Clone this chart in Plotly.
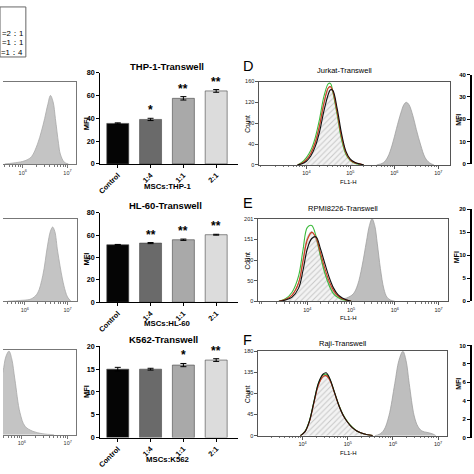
import math
import plotly.graph_objects as go

W = H = 474

# ---------------- data ----------------
bar_categories = ["Control", "1:4", "1:1", "2:1"]
bar_colors = ["#050505", "#6a6a6a", "#a9a9a9", "#dcdcdc"]

thp1_mfi = [35.5, 39.0, 57.5, 64.0]
thp1_err = [0.5, 1.0, 1.5, 1.2]
thp1_sig = ["", "*", "**", "**"]

hl60_mfi = [51.5, 53.0, 56.0, 60.5]
hl60_err = [0.3, 0.5, 0.6, 0.4]
hl60_sig = ["", "**", "**", "**"]

k562_mfi = [15.0, 15.0, 15.9, 17.0]
k562_err = [0.4, 0.2, 0.35, 0.3]
k562_sig = ["", "", "*", "**"]

legend_labels = ["=2：1", "=1：1", "=1：4"]

# left column (cropped) histograms, x in log10(FL1-H)
tl_x = [5.6, 5.78, 6.0, 6.1, 6.2, 6.33, 6.42, 6.49, 6.56, 6.62, 6.68, 6.73, 6.8, 6.84, 6.93, 7.02]
tl_y = [0, 1, 3, 5, 9, 24, 40, 55, 72, 83, 75, 55, 25, 12, 2, 0]
ml_x = [5.6, 5.9, 6.1, 6.19, 6.3, 6.42, 6.53, 6.6, 6.65, 6.7, 6.77, 6.88, 6.95, 7.0, 7.08]
ml_y = [0, 1, 2, 4, 10, 31, 67, 85, 90, 85, 60, 27, 12, 5, 0]
bl_x = [5.4, 5.5, 5.59, 5.65, 5.72, 5.78, 5.85, 5.96, 6.07, 6.24, 6.46, 6.7]
bl_y = [40, 58, 75, 92, 99, 90, 65, 26, 10, 4, 1, 0]

# D: Jurkat
d_pos_x = [5.6, 5.75, 5.85, 5.95, 6.05, 6.15, 6.22, 6.27, 6.33, 6.42, 6.5, 6.6, 6.7, 6.8, 6.9]
d_pos_y = [0, 4, 15, 38, 70, 100, 116, 120, 116, 95, 68, 38, 14, 4, 0]
d_x = [3.8, 3.9, 4.0, 4.1, 4.2, 4.3, 4.4, 4.5, 4.55, 4.6, 4.7, 4.8, 4.9, 5.0, 5.1, 5.2, 5.3]
d_ctrl = [0, 3, 10, 22, 42, 75, 118, 148, 150, 142, 100, 52, 22, 9, 4, 2, 0]
d_green = [0, 5, 14, 28, 52, 88, 132, 156, 156, 140, 96, 48, 20, 8, 3, 1, 0]
d_red = [0, 3, 10, 22, 43, 76, 119, 148, 150, 142, 101, 54, 23, 9, 4, 2, 0]
d_black = [0, 2, 7, 17, 35, 64, 104, 136, 144, 143, 108, 60, 26, 11, 5, 2, 0]

# E: RPMI8226
e_pos_x = [4.5, 4.7, 4.9, 5.05, 5.15, 5.25, 5.35, 5.42, 5.48, 5.54, 5.6, 5.67, 5.75, 5.82, 5.9, 6.0]
e_pos_y = [0, 3, 8, 18, 40, 85, 145, 185, 201, 185, 140, 80, 30, 10, 3, 0]
e_x = [3.35, 3.5, 3.65, 3.8, 3.9, 4.0, 4.1, 4.2, 4.3, 4.4, 4.5, 4.6, 4.7, 4.8, 4.9, 5.0]
e_ctrl = [0, 4, 15, 45, 100, 155, 170, 150, 110, 72, 42, 22, 12, 6, 3, 0]
e_green = [0, 6, 22, 62, 125, 180, 185, 158, 110, 68, 38, 18, 9, 4, 2, 0]
e_red = [0, 4, 15, 45, 98, 150, 168, 155, 118, 80, 48, 26, 13, 6, 3, 0]
e_black = [0, 3, 10, 32, 75, 128, 153, 157, 128, 92, 58, 32, 16, 8, 3, 0]

# F: Raji
f_pos_x = [5.6, 5.7, 5.8, 5.91, 6.04, 6.13, 6.22, 6.29, 6.36, 6.47, 6.55, 6.64, 6.75, 6.87, 6.95]
f_pos_y = [0, 3, 12, 42, 111, 160, 180, 160, 111, 42, 20, 10, 7, 4, 0]
f_x = [3.95, 4.05, 4.15, 4.25, 4.35, 4.45, 4.52, 4.6, 4.7, 4.8, 4.9, 5.0, 5.1, 5.2, 5.35, 5.55]
f_ctrl = [0, 8, 30, 70, 108, 125, 127, 118, 92, 64, 42, 28, 17, 10, 4, 0]
f_green = [0, 9, 32, 73, 112, 129, 131, 121, 94, 66, 44, 29, 18, 10, 4, 0]
f_red = [0, 8, 30, 70, 108, 126, 128, 119, 93, 65, 43, 28, 17, 10, 4, 0]
f_black = [0, 8, 31, 72, 112, 131, 134, 122, 94, 65, 43, 28, 17, 10, 4, 0]

# ---------------- helpers ----------------
FONT = "Liberation Sans, Arial, sans-serif"


def xd(a, b):
    return [max(0.0, a / W), min(1.0, b / W)]


def yd(top, bottom):
    return [1 - bottom / H, 1 - top / H]


def px(v):
    return v / W


def py(v):
    return 1 - v / H


minor_vals = [n + math.log10(k) for n in range(2, 8) for k in range(2, 10)]


def decade_ticks(lo, hi):
    vals = list(range(lo, hi + 1))
    return vals, ["10<sup>%d</sup>" % v for v in vals]


fig = go.Figure()
layout = dict(
    width=W, height=H, margin=dict(l=0, r=0, t=0, b=0),
    paper_bgcolor="white", plot_bgcolor="white", showlegend=False,
    font=dict(family=FONT, color="black"),
)
annotations = []
shapes = []


def ann(text, x, y, size, bold=False, angle=0, xanchor="center", yanchor="middle", color="black"):
    annotations.append(dict(
        text=("<b>%s</b>" % text) if bold else text, x=px(x), y=py(y), xref="paper", yref="paper",
        showarrow=False, textangle=angle, xanchor=xanchor, yanchor=yanchor,
        font=dict(size=size, family=FONT, color=color)))


# ---------------- left cropped histograms ----------------
left_specs = [
    (1, tl_x, tl_y, (0, 73), (79, 163), [5.56, 7.18]),
    (2, ml_x, ml_y, (0, 74), (219, 303), [5.49, 7.21]),
    (3, bl_x, bl_y, (0, 73), (353, 439), [5.59, 7.17]),
]
for i, hx, hy, xdom, ydom, xr in left_specs:
    xa = "x" if i == 1 else "x%d" % i
    ya = "y" if i == 1 else "y%d" % i
    fig.add_trace(go.Scatter(x=hx, y=hy, mode="lines", xaxis=xa, yaxis=ya,
                             line=dict(color="#a8a8a8", width=0.8, shape="spline"),
                             fill="tozeroy", fillcolor="#c4c4c4", hoverinfo="skip"))
    tv, tt = decade_ticks(6, 7)
    layout["xaxis" if i == 1 else "xaxis%d" % i] = dict(
        domain=xd(*xdom), range=xr, anchor=ya, showline=True, mirror=True, linecolor="#777",
        linewidth=1, ticks="outside", ticklen=3, tickcolor="#777", tickvals=tv, ticktext=tt,
        tickfont=dict(size=5.5, color="#333"), showgrid=False, zeroline=False,
        minor=dict(tickvals=minor_vals, ticks="outside", ticklen=2, tickcolor="#777"))
    layout["yaxis" if i == 1 else "yaxis%d" % i] = dict(
        domain=yd(*ydom), range=[0, 100], anchor=xa, side="right", showline=True,
        linecolor="#777", linewidth=1, ticks="", showticklabels=False, showgrid=False,
        zeroline=False)

# legend box fragment
shapes.append(dict(type="rect", xref="paper", yref="paper", x0=px(-3), x1=px(23),
                   y0=py(54), y1=py(3), line=dict(color="#666", width=1)))
for lbl, yy in zip(legend_labels, [30, 39, 49]):
    ann(lbl, 22.5, yy, 7.8, xanchor="right")

# ---------------- bar charts ----------------
bar_specs = [
    (4, thp1_mfi, thp1_err, thp1_sig, (70, 163), 80, 20, "THP-1-Transwell", 165, 64, "MSCs:THP-1", 186, 122),
    (5, hl60_mfi, hl60_err, hl60_sig, (213, 304), 80, 20, "HL-60-Transwell", 164, 205, "MSCs:HL-60", 326, 260),
    (6, k562_mfi, k562_err, k562_sig, (349, 442), 20, 5, "K562-Transwell", 162, 342, "MSCs:K562", 464, 395),
]
for i, vals, errs, sig, ydom, ymax, dt, title, tx, ty, xlabel, xly, mfy in bar_specs:
    xa, ya = "x%d" % i, "y%d" % i
    fig.add_trace(go.Bar(x=bar_categories, y=vals, xaxis=xa, yaxis=ya, width=0.67,
                         marker=dict(color=bar_colors, line=dict(color="#444", width=0.6)),
                         error_y=dict(type="data", array=errs, color="black", thickness=1, width=3),
                         hoverinfo="skip"))
    layout["xaxis%d" % i] = dict(
        domain=xd(98, 236), range=[-0.53, 3.65], anchor=ya, type="category",
        showline=True, linecolor="black", linewidth=1.2, ticks="outside", ticklen=3,
        tickcolor="black", tickangle=-45, tickfont=dict(size=7.3, weight="bold"),
        showgrid=False, zeroline=False)
    layout["yaxis%d" % i] = dict(
        domain=yd(*ydom), range=[0, ymax], anchor=xa, dtick=dt, tick0=0,
        showline=True, linecolor="black", linewidth=1.2, ticks="outside", ticklen=3,
        tickcolor="black", tickfont=dict(size=7.2, weight="bold"), showgrid=False, zeroline=False)
    for c, v, e, s in zip(bar_categories, vals, errs, sig):
        if s:
            annotations.append(dict(text="<b>%s</b>" % s, x=c, y=v + e, xref=xa, yref=ya,
                                    showarrow=False, yanchor="bottom", yshift=-1,
                                    font=dict(size=12, family=FONT)))
    ann(title, tx, ty, 9.5, bold=True)
    ann(xlabel, 166, xly, 7.8, bold=True)
    ann("MFI", 84, mfy, 7.5, bold=True, angle=-90)

# ---------------- D/E/F histograms ----------------
hist_specs = [
    (7, "D", "Jurkat-Transwell", d_pos_x, d_pos_y, d_x, d_ctrl, d_green, d_red, d_black,
     (258, 450), (79, 164), [2.93, 7.27], [0, 160], [0, 40, 80, 120, 160], 63, 68, 181),
    (8, "E", "RPMI8226-Transwell", e_pos_x, e_pos_y, e_x, e_ctrl, e_green, e_red, e_black,
     (257, 448), (219, 303), [2.88, 7.22], [0, 201], [0, 50, 100, 151, 201], 203, 208, 320),
    (9, "F", "Raji-Transwell", f_pos_x, f_pos_y, f_x, f_ctrl, f_green, f_red, f_black,
     (257, 447), (354, 440), [3.02, 7.2], [0, 180], [0, 45, 90, 135, 180], 342, 346, 458),
]
for (i, letter, title, px_, py_, lx, ctrl, green, red, black, xdom, ydom, xr, yr, ytv,
     ly, tty, fly) in hist_specs:
    xa, ya = "x%d" % i, "y%d" % i
    fig.add_trace(go.Scatter(x=px_, y=py_, mode="lines", xaxis=xa, yaxis=ya,
                             line=dict(color="#a0a0a0", width=0.8, shape="spline"),
                             fill="tozeroy", fillcolor="#bebebe", hoverinfo="skip"))
    fig.add_trace(go.Scatter(x=lx, y=ctrl, mode="lines", xaxis=xa, yaxis=ya,
                             line=dict(color="#909090", width=0.8, shape="spline"),
                             fill="tozeroy", fillcolor="rgba(0,0,0,0)",
                             fillpattern=dict(shape="/", fgcolor="#9a9a9a", bgcolor="#f3f3f3",
                                              size=4, solidity=0.25),
                             hoverinfo="skip"))
    for ys, col in [(green, "#3dbb3d"), (red, "#d23a1e"), (black, "#111111")]:
        fig.add_trace(go.Scatter(x=lx, y=ys, mode="lines", xaxis=xa, yaxis=ya,
                                 line=dict(color=col, width=1.1, shape="spline"), hoverinfo="skip"))
    tv, tt = decade_ticks(4, 7)
    layout["xaxis%d" % i] = dict(
        domain=xd(*xdom), range=xr, anchor=ya, showline=True, mirror=True, linecolor="#555",
        linewidth=1, ticks="outside", ticklen=3, tickcolor="#555", tickvals=tv, ticktext=tt,
        tickfont=dict(size=5.5, color="#222"), showgrid=False, zeroline=False,
        minor=dict(tickvals=minor_vals, ticks="outside", ticklen=1.5, tickcolor="#777"))
    layout["yaxis%d" % i] = dict(
        domain=yd(*ydom), range=yr, anchor=xa, showline=True, mirror=True, linecolor="#555",
        linewidth=1, ticks="outside", ticklen=3, tickcolor="#555", tickvals=ytv,
        tickfont=dict(size=5.5, color="#222"), showgrid=False, zeroline=False)
    ann(letter, 240, ly, 14.5, xanchor="left")
    ann(title, (xdom[0] + xdom[1]) / 2 - 10, tty, 7.5)
    ann("Count", 246, (ydom[0] + ydom[1]) / 2, 6.5, angle=-90)
    ann("FL1-H", 348, fly, 6)

# ---------------- right-edge partial bar-chart axes ----------------
right_specs = [
    (10, (72, 163), 40, 10, 459, 118),
    (11, (209, 303), 20, 5, 456, 258),
    (12, (348, 442), 10, 2, 459, 387),
]
for i, ydom, ymax, dt, mx, my in right_specs:
    xa, ya = "x%d" % i, "y%d" % i
    fig.add_trace(go.Bar(x=[None], y=[None], xaxis=xa, yaxis=ya, hoverinfo="skip"))
    layout["xaxis%d" % i] = dict(domain=[0.996, 1.0], anchor=ya, visible=False, range=[0, 1])
    layout["yaxis%d" % i] = dict(
        domain=yd(*ydom), range=[0, ymax], dtick=dt, tick0=0, anchor=xa, showline=True,
        linecolor="black", linewidth=2, ticks="outside", ticklen=3, tickcolor="black",
        tickfont=dict(size=6, weight="bold"), showgrid=False, zeroline=False)
    ann("MFI", mx, my, 7, bold=True, angle=-90)

layout["annotations"] = annotations
layout["shapes"] = shapes
fig.update_layout(**layout)
fig.write_html("out.html", config={"displayModeBar": False, "staticPlot": True},
               post_script="document.body.style.margin='0';document.body.style.overflow='hidden';")
